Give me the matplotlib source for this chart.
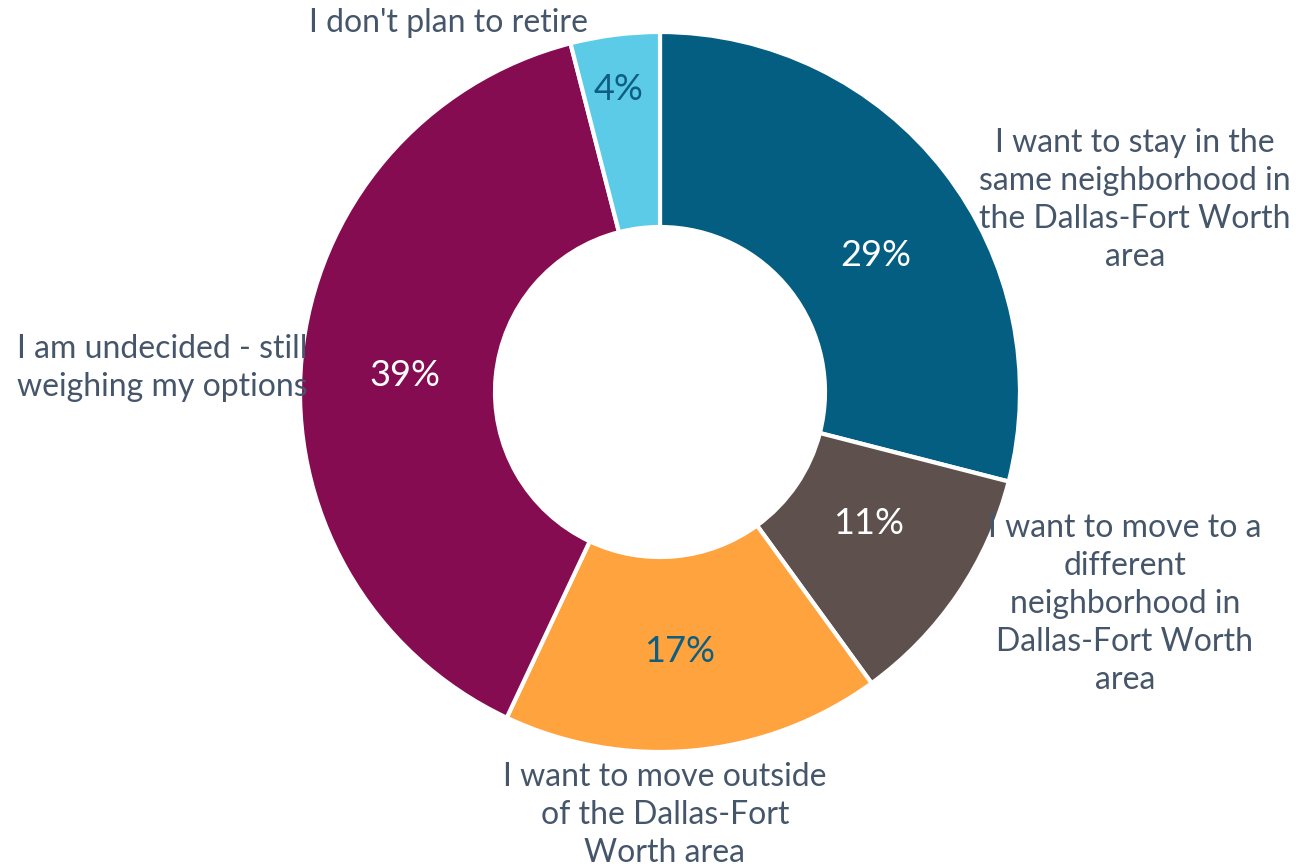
import matplotlib.pyplot as plt

categories = [
    "I want to stay in the\nsame neighborhood in\nthe Dallas-Fort Worth\narea",
    "I want to move to a\ndifferent\nneighborhood in\nDallas-Fort Worth\narea",
    "I want to move outside\nof the Dallas-Fort\nWorth area",
    "I am undecided - still\nweighing my options",
    "I don't plan to retire",
]
shares = [29, 11, 17, 39, 4]
colors = ["#045E82", "#5E514D", "#FFA33F", "#860C51", "#5BCBE8"]
pct_colors = ["white", "white", "#0D5E80", "white", "#0D5E80"]

# text centres in pixel coords (x, y from top)
label_pos = [(1135, 200), (1125, 604), (665, 815), (162, 368), (449, 23)]
pct_pos = [(876, 255), (869, 523), (680, 651), (405, 376), (619, 90)]

W, H = 1299, 867
cx, cy, R, r_in = 660, H - 392, 360, 165

plt.rcParams['font.family'] = ['Lato', 'DejaVu Sans']
fig = plt.figure(figsize=(W / 100, H / 100), dpi=100)
ax = fig.add_axes([0, 0, 1, 1])

wedges, _ = ax.pie(shares, colors=colors, startangle=90, counterclock=False,
                   center=(cx, cy), radius=R,
                   wedgeprops=dict(width=R - r_in, edgecolor='white', linewidth=3))

for val, tc, (px, py) in zip(shares, pct_colors, pct_pos):
    ax.text(px, H - py, f"{val}%", ha='center', va='center', fontsize=26, color=tc)

for lab, (px, py) in zip(categories, label_pos):
    ax.text(px, H - py, lab, ha='center', va='center', fontsize=23,
            color='#46566A', linespacing=1.33)

ax.set_xlim(0, W)
ax.set_ylim(0, H)
ax.set_aspect('equal')
ax.axis('off')
fig.savefig('out.png', dpi=100)
